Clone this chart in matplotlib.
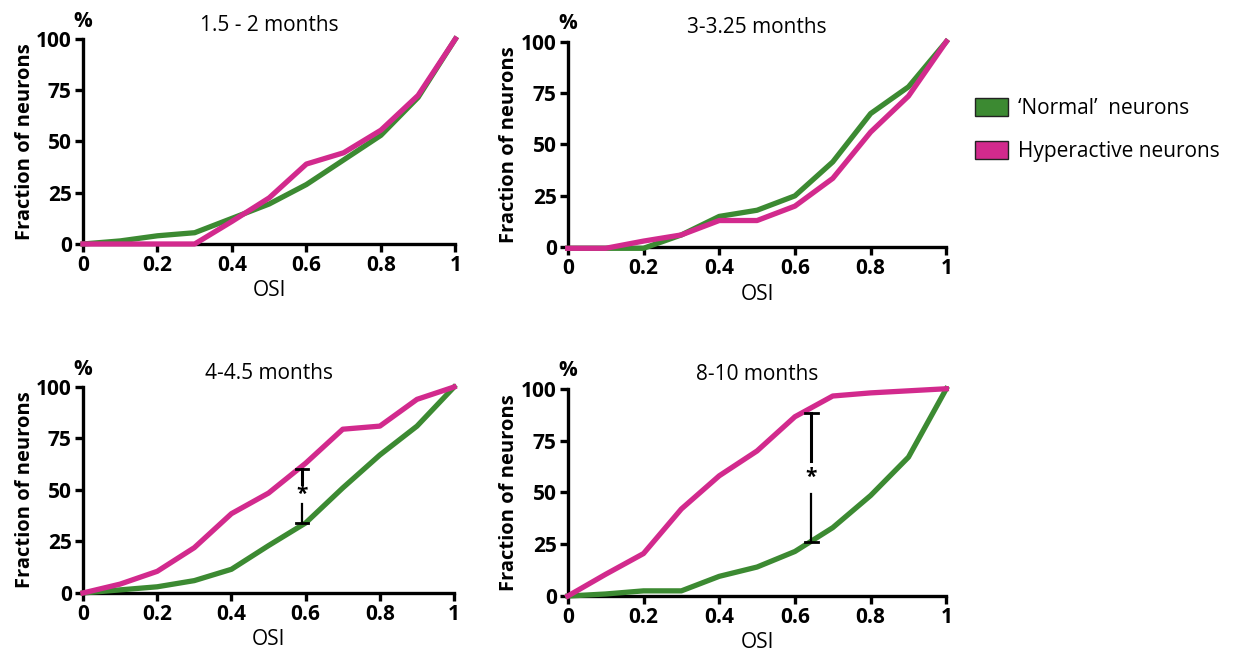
import numpy as np
import matplotlib
matplotlib.use('Agg')
import matplotlib.pyplot as plt
from matplotlib.patches import Patch

plt.rcParams['font.family'] = ['Open Sans', 'DejaVu Sans']

# OSI bins
osi = [0, 0.1, 0.2, 0.3, 0.4, 0.5, 0.6, 0.7, 0.8, 0.9, 1.0]

titles = ['1.5 - 2 months', '3-3.25 months', '4-4.5 months', '8-10 months']

# cumulative fraction of neurons (%)
normal_1 = [0, 1.5, 4, 5.5, 12.5, 19.5, 29, 41, 53, 71.5, 100]
hyper_1 = [0, 0, 0, 0, 11, 22.5, 39, 44.5, 55.5, 72.5, 100]

normal_2 = [-0.5, -0.5, -0.5, 6, 15, 18, 25, 41.5, 65, 78, 100]
hyper_2 = [-0.5, -0.5, 3, 6, 13, 13, 20, 33.5, 56, 73.5, 100]

normal_3 = [0, 1.5, 3, 6, 11.5, 23, 34, 51, 67, 81, 100]
hyper_3 = [0, 4.3, 10.5, 22, 38.5, 48.5, 63, 79.5, 81, 94, 100]

normal_4 = [0, 1, 2.5, 2.5, 9.5, 14, 21.5, 33, 48.5, 67, 100]
hyper_4 = [0, 10.5, 20.5, 42, 58, 70, 86.5, 96.5, 98, 99, 100]

normals = [normal_1, normal_2, normal_3, normal_4]
hypers = [hyper_1, hyper_2, hyper_3, hyper_4]

# significance bars (panel index -> x, top, bottom, gap around star)
sig_panels = [2, 3]
sig_x = [0.59, 0.643]
sig_top = [60, 88.5]
sig_bottom = [34, 26]
sig_gap = [(43, 53), (49, 65)]

green = '#3c8a32'
magenta = '#d22a8d'

fig = plt.figure(figsize=(12.33, 6.55), dpi=100)

positions = [
    [0.0673, 0.6275, 0.302, 0.313],
    [0.4605, 0.6225, 0.3070, 0.314],
    [0.0673, 0.0947, 0.301, 0.3145],
    [0.4605, 0.0900, 0.3070, 0.3165],
]

for i in range(4):
    ax = fig.add_axes(positions[i])
    ax.plot(osi, normals[i], color=green, lw=3.8, clip_on=False, zorder=3,
            solid_joinstyle='round')
    ax.plot(osi, hypers[i], color=magenta, lw=3.8, clip_on=False, zorder=4,
            solid_joinstyle='round')

    ax.set_xlim(0, 1)
    ax.set_ylim(0, 100)
    ax.set_xticks([0, 0.2, 0.4, 0.6, 0.8, 1])
    ax.set_xticklabels(['0', '0.2', '0.4', '0.6', '0.8', '1'])
    ax.set_yticks([0, 25, 50, 75, 100])

    for s in ['top', 'right']:
        ax.spines[s].set_visible(False)
    for s in ['left', 'bottom']:
        ax.spines[s].set_linewidth(2.4)
        ax.spines[s].set_zorder(2)
    ax.tick_params(width=2.4, length=6, labelsize=15, pad=2)
    for lab in ax.get_xticklabels() + ax.get_yticklabels():
        lab.set_fontweight('bold')

    ax.set_xlabel('OSI', fontsize=15, labelpad=3)
    ax.set_ylabel('Fraction of neurons', fontsize=14.5, fontweight='bold')
    ax.yaxis.set_label_coords(-0.13, 0.5)
    ax.set_title(titles[i], fontsize=15, pad=6)
    ax.text(0, 1.035, '%', transform=ax.transAxes, ha='center', va='bottom',
            fontsize=15, fontweight='bold')

    if i in sig_panels:
        k = sig_panels.index(i)
        x = sig_x[k]
        lo, hi = sig_gap[k]
        ax.plot([x, x], [hi, sig_top[k]], color='black', lw=2.2, zorder=5)
        ax.plot([x, x], [sig_bottom[k], lo], color='black', lw=1.6, zorder=5)
        ax.plot([x - 0.017, x + 0.017], [sig_top[k], sig_top[k]],
                color='black', lw=2, zorder=5)
        ax.plot([x - 0.017, x + 0.017], [sig_bottom[k], sig_bottom[k]],
                color='black', lw=2, zorder=5)
        ax.text(x, (lo + hi) / 2, '*', ha='center', va='center',
                fontsize=15, fontweight='bold')

handles = [Patch(facecolor=green, edgecolor='#222222', lw=1),
           Patch(facecolor=magenta, edgecolor='#222222', lw=1)]
fig.legend(handles, ['\u2018Normal\u2019  neurons', 'Hyperactive neurons'],
           loc='upper left', bbox_to_anchor=(0.791, 0.85), frameon=False,
           fontsize=15, handlelength=1.55, handleheight=0.95,
           handletextpad=0.5, labelspacing=1.05, borderpad=0,
           borderaxespad=0)

fig.savefig('out.png', dpi=100)
